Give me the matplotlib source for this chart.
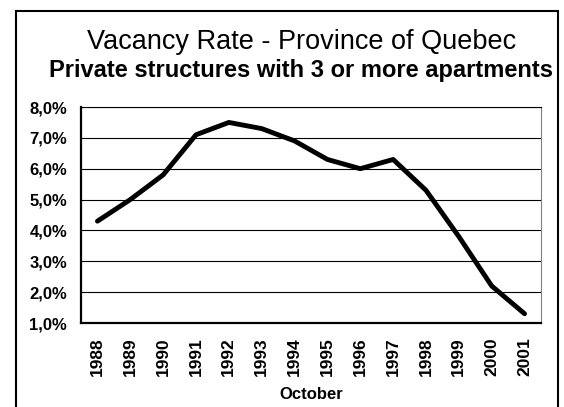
import matplotlib.pyplot as plt
import matplotlib as mpl
from matplotlib.patches import Rectangle
import numpy as np

plt.rcParams['font.family'] = ['Liberation Sans', 'DejaVu Sans']

# data (October of each year)
years = ['1988', '1989', '1990', '1991', '1992', '1993', '1994',
         '1995', '1996', '1997', '1998', '1999', '2000', '2001']
vacancy_rate = [4.3, 5.0, 5.8, 7.1, 7.5, 7.3, 6.9,
                6.3, 6.0, 6.3, 5.3, 3.8, 2.2, 1.3]
yticks = [1, 2, 3, 4, 5, 6, 7, 8]

title = 'Vacancy Rate - Province of Quebec'
subtitle = 'Private structures with 3 or more apartments'
xlabel = 'October'

W, H = 564, 407
fig = plt.figure(figsize=(W / 100, H / 100), dpi=100)
ax = fig.add_axes([81 / W, 1 - 323 / H, 460 / W, 216 / H])

x = np.arange(len(years))
ax.plot(x, vacancy_rate, color='black', lw=3.5, solid_capstyle='round',
        solid_joinstyle='round', zorder=3)

ax.set_xlim(-0.5, len(years) - 0.5)
ax.set_ylim(yticks[0], yticks[-1])
ax.set_yticks(yticks)
ax.set_yticklabels([f'{v:.1f}%'.replace('.', ',') for v in yticks],
                   fontsize=12, fontweight='bold')
ax.set_xticks(x)
ax.set_xticklabels(years, rotation=90, fontsize=12.5, fontweight='bold')
ax.tick_params(axis='both', length=0)
ax.tick_params(axis='y', pad=10)
ax.tick_params(axis='x', pad=10)
ax.set_xlabel(xlabel, fontsize=12, fontweight='bold', labelpad=8)

ax.yaxis.grid(True, color='black', lw=0.8)
ax.set_axisbelow(True)
for side in ['left', 'bottom']:
    ax.spines[side].set_linewidth(1.6)
ax.spines['top'].set_linewidth(0.8)
ax.spines['right'].set_linewidth(0.8)
ax.spines['right'].set_color('#808080')

fig.text(302 / W, 1 - 49 / H, title, ha='center', va='baseline', fontsize=19.5)
fig.text(301 / W, 1 - 77 / H, subtitle, ha='center', va='baseline',
         fontsize=17, fontweight='bold')

# outer chart border (bottom edge runs off the image)
fig.add_artist(Rectangle((16 / W, -0.05), (558 - 16) / W, (H - 11) / H + 0.05,
                         transform=fig.transFigure, fill=False, lw=1.5,
                         edgecolor='black', clip_on=False))

fig.savefig('out.png', dpi=100)
